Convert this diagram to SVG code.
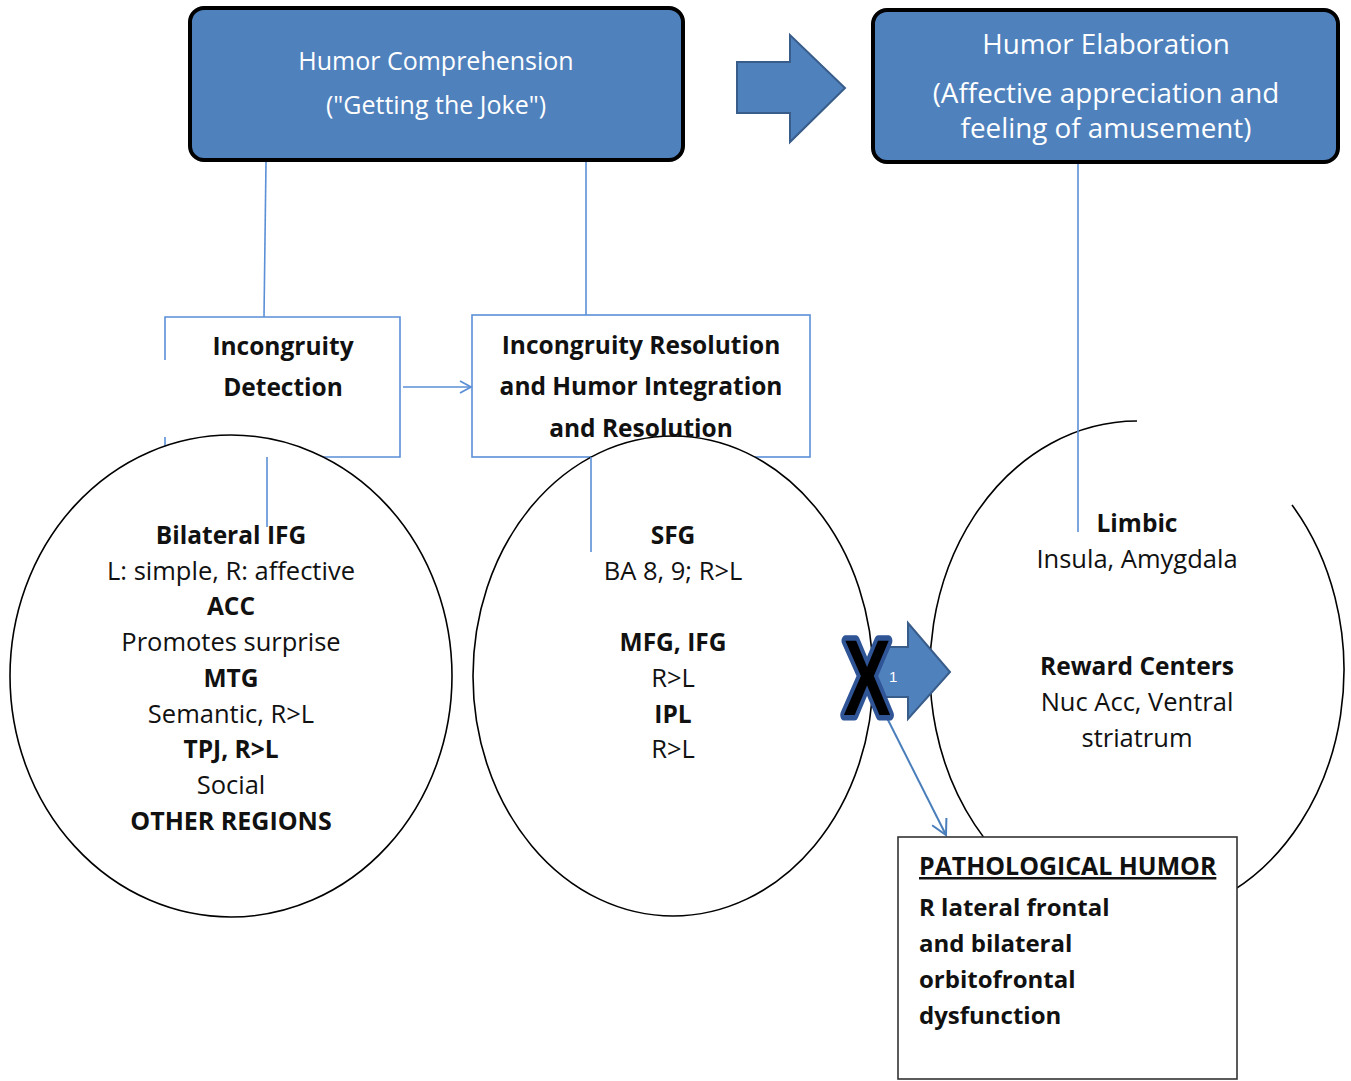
<svg xmlns="http://www.w3.org/2000/svg" width="1351" height="1081" viewBox="0 0 1351 1081">
<style>
text{font-family:"Open Sans","Liberation Sans",sans-serif;font-size:25.5px;fill:#111;}
.w{fill:#fff;font-size:25px;}
.w2{fill:#fff;font-size:27.8px;}
.b{font-weight:bold;font-size:24.5px;}
.p{font-weight:bold;font-size:24px;}
.c{text-anchor:middle;}
.top{fill:#4f81bd;stroke:#000;stroke-width:4;}
.lbox{fill:none;stroke:#5b8fd6;stroke-width:1.6;}
.circ{fill:#fff;stroke:#000;stroke-width:1.6;}
.conn{stroke:#5b8fd6;stroke-width:1.6;fill:none;}
.conn2{stroke:#4a7ebb;stroke-width:2;fill:none;}
.fat{fill:#4f81bd;stroke:#385d8a;stroke-width:2;}
</style>
<defs>
<marker id="open" markerWidth="14" markerHeight="14" refX="12" refY="7" orient="auto" markerUnits="userSpaceOnUse">
<path d="M1,1 L12,7 L1,13" fill="none" stroke="#5b8fd6" stroke-width="1.8"/>
</marker>
<marker id="open2" markerWidth="18" markerHeight="18" refX="16" refY="9" orient="auto" markerUnits="userSpaceOnUse">
<path d="M1,1 L16,9 L1,17" fill="none" stroke="#4a7ebb" stroke-width="2"/>
</marker>
</defs>
<rect width="1351" height="1081" fill="#fff"/>

<g id="connectors">
<line class="conn" x1="266" y1="162" x2="264" y2="317"/>
<line class="conn" x1="586" y1="162" x2="586" y2="315"/>
<line class="conn" x1="1078" y1="164" x2="1078" y2="420"/>
</g>

<g id="comprehension">
<rect class="top" x="190" y="8" width="493" height="152" rx="14"/>
<text class="w c" x="436" y="70">Humor Comprehension</text>
<text class="w c" x="436" y="114">("Getting the Joke")</text>
</g>

<g id="big-arrow">
<polygon class="fat" points="737,62 790,62 790,35 845,88 790,142 790,113 737,113"/>
</g>

<g id="elaboration">
<rect class="top" x="873" y="10" width="465" height="152" rx="14"/>
<text class="w2 c" x="1106" y="54">Humor Elaboration</text>
<text class="w2 c" x="1106" y="103">(Affective appreciation and</text>
<text class="w2 c" x="1106" y="138">feeling of amusement)</text>
</g>

<g id="detection">
<path class="lbox" d="M165,360 L165,317 L400,317 L400,457 L165,457 L165,437"/>
<text class="b c" x="283" y="355">Incongruity</text>
<text class="b c" x="283" y="396">Detection</text>
</g>

<g id="resolution">
<rect class="lbox" x="472" y="315" width="338" height="142"/>
</g>

<g id="left-circle">
<ellipse class="circ" cx="231" cy="676" rx="221" ry="241"/>
<text class="b c" x="231" y="544">Bilateral IFG</text>
<text class="c" x="231" y="580">L: simple, R: affective</text>
<text class="b c" x="231" y="615">ACC</text>
<text class="c" x="231" y="651">Promotes surprise</text>
<text class="b c" x="231" y="687">MTG</text>
<text class="c" x="231" y="723">Semantic, R&gt;L</text>
<text class="b c" x="231" y="758">TPJ, R&gt;L</text>
<text class="c" x="231" y="794">Social</text>
<text class="b c" x="231" y="830" style="font-size:25px">OTHER REGIONS</text>
</g>

<g id="middle-circle">
<ellipse class="circ" cx="673" cy="676" rx="200" ry="240"/>
<text class="b c" x="673" y="544">SFG</text>
<text class="c" x="673" y="580">BA 8, 9; R&gt;L</text>
<text class="b c" x="673" y="651">MFG, IFG</text>
<text class="c" x="673" y="687">R&gt;L</text>
<text class="b c" x="673" y="723">IPL</text>
<text class="c" x="673" y="758">R&gt;L</text>
</g>

<g id="resolution-text">
<text class="b c" x="641" y="354">Incongruity Resolution</text>
<text class="b c" x="641" y="395">and Humor Integration</text>
<text class="b c" x="641" y="437">and Resolution</text>
</g>

<g id="right-circle">
<path d="M1292,505 A207,249 0 1 1 1137,421" fill="none" stroke="#000" stroke-width="1.6"/>
<text class="b c" x="1137" y="532">Limbic</text>
<text class="c" x="1137" y="568">Insula, Amygdala</text>
<text class="b c" x="1137" y="675">Reward Centers</text>
<text class="c" x="1137" y="711">Nuc Acc, Ventral</text>
<text class="c" x="1137" y="747">striatrum</text>
</g>

<g id="connectors-lower">
<line class="conn" x1="1078" y1="420" x2="1078" y2="532"/>
<line class="conn" x1="267" y1="457" x2="267" y2="527"/>
<line class="conn" x1="591" y1="457" x2="591" y2="552"/>
<line class="conn" x1="403" y1="387" x2="471" y2="387" marker-end="url(#open)"/>
</g>

<g id="blocked-arrow">
<polygon class="fat" points="875,647 908,647 908,623 950,672 908,719 908,697 875,697"/>
<line class="conn2" x1="884" y1="712" x2="946" y2="835" marker-end="url(#open2)"/>
<text transform="translate(867,715) scale(0.66,1)" text-anchor="middle" style="font-family:'Liberation Sans',sans-serif;font-weight:bold;font-size:108px;fill:#000;stroke:#2f5597;stroke-width:11;stroke-linejoin:round;paint-order:stroke">X</text>
<text x="889" y="682" style="font-family:'Liberation Sans',sans-serif;font-size:15px;fill:#fff">1</text>
</g>

<g id="pathological">
<rect x="898" y="837" width="339" height="242" fill="#fff" stroke="#333" stroke-width="1.6"/>
<text class="p" x="919" y="875" text-decoration="underline" style="font-size:24.9px">PATHOLOGICAL HUMOR</text>
<text class="p" x="919" y="916">R lateral frontal</text>
<text class="p" x="919" y="952">and bilateral</text>
<text class="p" x="919" y="988">orbitofrontal</text>
<text class="p" x="919" y="1024">dysfunction</text>
</g>
</svg>
